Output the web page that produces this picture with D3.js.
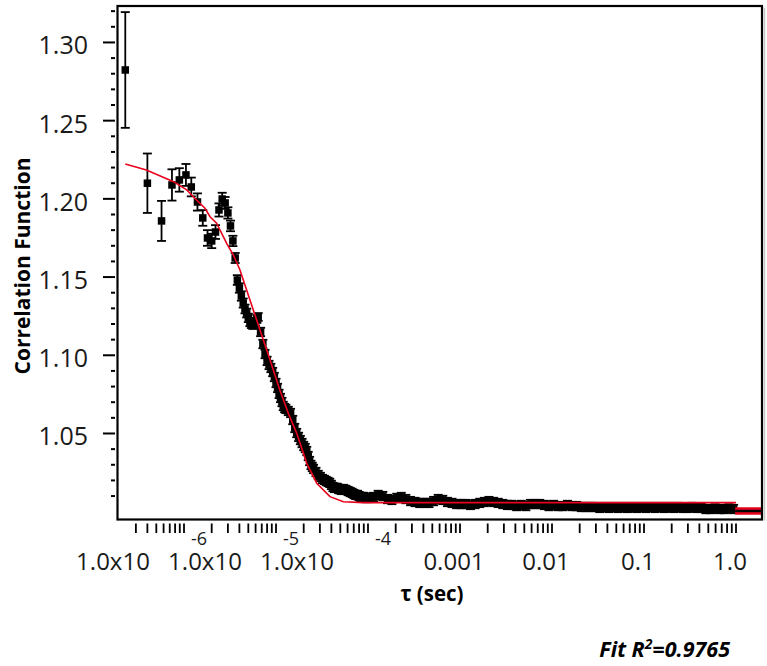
<!DOCTYPE html>
<html>
<head>
<meta charset="utf-8">
<script src="https://cdn.jsdelivr.net/npm/d3@7"></script>
<style>
  body { margin: 0; background: #fff; }
  svg { display: block; font-family: "Open Sans", "Noto Sans", sans-serif; }
</style>
</head>
<body>
<svg id="chart" width="767" height="666"></svg>
<script>
// lag times (microseconds) and measured correlation values
var tauUs = [
  0.23,0.40,0.57,0.74,0.89,1.05,1.2,1.4,1.6,1.8,2.0,2.2,2.4,2.6,2.8,3.0,3.2,
  3.4,3.6,3.8,4.0,4.2,4.4,4.6,4.8,5.0,5.2,5.4,5.6,5.8,6.0,6.2,6.4,
  6.8,7.2,7.6,8.0,8.4,8.8,9.2,9.6,10.0,10.4,10.8,11.2,11.6,12.0,12.4,12.8,
  13.6,14.4,15.2,16.0,16.8,17.6,18.4,19.2,20.0,20.8,21.6,22.4,23.2,24.0,24.8,25.6,
  27.2,28.8,30.4,32,33.6,35.2,36.8,38.4,40,41.6,43.2,44.8,46.4,48,49.6,51.2,
  54.4,57.6,60.8,64,67.2,70.4,73.6,76.8,80,83.2,86.4,89.6,92.8,96,99.2,102.4,
  115,129,145,163,182,205, 230,258,290,325,365,410, 460,516,579,650,730,819,
  919,1032,1158,1300,1459,1638, 1839,2064,2317,2601,2920,3277, 3678,4129,4634,5202,5839,6554,
  7357,8258,9269,10404,11678,13107, 14713,16515,18537,20808,23356,26214,
  29425,33029,37074,41615,46712,52429, 58850,66058,74148,83230,93423,104858,
  117700,132116,148297,166460,186846,209715, 235400,264231,296594,332920,373692,419430,
  470800,528463,593189,665840,747383,838861,941600];

var gVal = [
  1.2824,1.2100,1.1859,1.2089,1.2121,1.2153,1.2076,1.1980,1.1878,1.1750,1.1731,1.1788,1.1929,1.1999,1.1974,1.1910,1.1827,
  1.1731,1.1622,1.1481,1.1430,1.1379,1.1334,1.1296,1.1270,1.1239,1.1213,1.1200,1.1194,1.1200,1.1213,1.1232,1.1245,
  1.1149,1.1072,1.1008,1.0964,1.0938,1.0919,1.0893,1.0861,1.0823,1.0791,1.0753,1.0727,1.0701,1.0676,1.0663,1.0657,
  1.0644,1.0631,1.0586,1.0535,1.0503,1.0478,1.0458,1.0439,1.0420,1.0407,1.0388,1.0356,1.0324,1.0299,1.0286,1.0273,
  1.0254,1.0235,1.0222,1.0209,1.0203,1.0196,1.0190,1.0184,1.0171,1.0158,1.0152,1.0152,1.0152,1.0145,1.0145,1.0139,
  1.0145,1.0139,1.0132,1.0126,1.0120,1.0113,1.0107,1.0107,1.0100,1.0094,1.0094,1.0094,1.0088,1.0088,1.0088,1.0088,
  1.0094,1.0107,1.0100,1.0081,1.0075,1.0088, 1.0094,1.0081,1.0068,1.0062,1.0056,1.0056, 1.0056,1.0068,1.0081,1.0075,1.0062,1.0056,
  1.0049,1.0049,1.0049,1.0043,1.0049,1.0056, 1.0062,1.0068,1.0062,1.0056,1.0049,1.0043, 1.0043,1.0036,1.0043,1.0036,1.0049,1.0049,
  1.0049,1.0043,1.0036,1.0043,1.0036,1.0036, 1.0043,1.0036,1.0036,1.0030,1.0030,1.0030,
  1.0030,1.0024,1.0030,1.0024,1.0030,1.0024, 1.0030,1.0024,1.0030,1.0024,1.0030,1.0024,
  1.0030,1.0024,1.0030,1.0024,1.0030,1.0024, 1.0030,1.0024,1.0024,1.0030,1.0024,1.0024,
  1.0017,1.0017,1.0021,1.0017,1.0017,1.0021,1.0017];

// error bars: larger on the early points, then a small spread on the rest
var gErr = [
  0.037,0.019,0.0128,0.010,0.0075,0.007,0.006,0.0055,0.005,0.005,0.0046,0.0044,0.0042,0.004,0.0038,0.0036,0.0034,
  0.0033,0.0032,0.0031,0.0030,0.0030,0.0029,0.0028,0.0028,0.0027,0.0027,0.0026,0.0026,0.0026,0.0025,0.0025,0.0025];
var lateErr = 0.0027;

// fitted curve
var fitTauUs = [0.23,0.39,0.77,1.07,1.37,1.69,1.92,2.26,2.91,3.44,4.06,5.21,6.70,8.61,11.0,13.6,16.8,21.6,27.7,38.6,
  54.0,89,1000,10000,100000,1000000];
var fitG = [1.2223,1.2185,1.2110,1.2057,1.1993,1.1940,1.1886,1.1844,1.1716,1.1641,1.1545,1.1354,1.1162,1.0970,1.0778,
  1.0629,1.0501,1.0309,1.0182,1.0096,1.0064,1.0058,1.0058,1.0058,1.0058,1.0058];

// last chunk past 1 s
var tailTauUs = [980000, 1920000];
var tailG = [1.00045, 1.00045];

var yMajorTicks = [1.05, 1.10, 1.15, 1.20, 1.25, 1.30];
var yMinorTicks = [1.01,1.02,1.03,1.04,1.06,1.07,1.08,1.09,1.11,1.12,1.13,1.14,1.16,1.17,1.18,1.19,
  1.21,1.22,1.23,1.24,1.26,1.27,1.28,1.29,1.31,1.32];
var xLabelTicks = [1e-6, 1e-5, 1e-4, 1e-3, 1e-2, 1e-1, 1];
var xLabelBase = ["1.0x10", "1.0x10", "1.0x10", "0.001", "0.01", "0.1", "1.0"];
var xLabelExp = ["-6", "-5", "-4", "", "", "", ""];

(function() {
  var pLeft = 117.5, pRight = 762, pTop = 6, pBottom = 519.5;

  var svg = d3.select("#chart");

  var x = d3.scaleLog()
    .domain([1.893e-7, 1.917])
    .range([pLeft, pRight]);

  var y = d3.scaleLinear()
    .domain([0.99501, 1.3233])
    .range([pBottom, pTop]);

  var data = tauUs.map(function(t, i) {
    return { tau: t * 1e-6, g: gVal[i], err: i < gErr.length ? gErr[i] : lateErr };
  });
  var fit = fitTauUs.map(function(t, i) { return { tau: t * 1e-6, g: fitG[i] }; });
  var tail = tailTauUs.map(function(t, i) { return { tau: t * 1e-6, g: tailG[i] }; });

  // faint shadow on the right of the frame
  svg.append("line")
    .attr("x1", pRight + 2.5).attr("x2", pRight + 2.5)
    .attr("y1", pTop + 2).attr("y2", pBottom + 1)
    .attr("stroke", "#c8c8c8").attr("stroke-width", 1.5);

  // y ticks
  var yAxis = svg.append("g");
  yAxis.selectAll(".ymajor")
    .data(yMajorTicks).enter()
    .append("line")
    .attr("x1", pLeft - 14.5).attr("x2", pLeft - 2.5)
    .attr("y1", function(d) { return y(d); }).attr("y2", function(d) { return y(d); })
    .attr("stroke", "#000").attr("stroke-width", 2);
  yAxis.selectAll(".yminor")
    .data(yMinorTicks).enter()
    .append("line")
    .attr("x1", pLeft - 6.5).attr("x2", pLeft - 2.5)
    .attr("y1", function(d) { return y(d); }).attr("y2", function(d) { return y(d); })
    .attr("stroke", "#000").attr("stroke-width", 2);
  yAxis.selectAll(".ylab")
    .data(yMajorTicks).enter()
    .append("text")
    .attr("x", 88)
    .attr("y", function(d) { return y(d) + 12; })
    .attr("text-anchor", "end")
    .attr("font-size", "25px")
    .attr("fill", "#1a1a1a")
    .text(function(d) { return d3.format(".2f")(d); });

  // x ticks
  var xTicks = x.ticks().filter(function(d) { return x(d) > pLeft + 6 && x(d) < pRight - 2; });
  var xAxis = svg.append("g");
  xAxis.selectAll(".xtick")
    .data(xTicks).enter()
    .append("line")
    .attr("x1", function(d) { return x(d); }).attr("x2", function(d) { return x(d); })
    .attr("y1", pBottom + 4).attr("y2", pBottom + 13.5)
    .attr("stroke", "#000").attr("stroke-width", 1.8);

  xLabelTicks.forEach(function(t, i) {
    var px = x(t);
    if (xLabelExp[i]) {
      xAxis.append("text")
        .attr("x", px - 71).attr("y", 570)
        .attr("text-anchor", "middle")
        .attr("font-size", "24px").attr("fill", "#1a1a1a")
        .text(xLabelBase[i]);
      xAxis.append("text")
        .attr("x", px + 15).attr("y", 545)
        .attr("text-anchor", "middle")
        .attr("font-size", "18px").attr("fill", "#1a1a1a")
        .text(xLabelExp[i]);
    } else {
      xAxis.append("text")
        .attr("x", px - 6).attr("y", 570)
        .attr("text-anchor", "middle")
        .attr("font-size", "24px").attr("fill", "#1a1a1a")
        .text(xLabelBase[i]);
    }
  });

  // axis titles
  svg.append("text")
    .attr("transform", "translate(30,266) rotate(-90)")
    .attr("text-anchor", "middle")
    .attr("font-size", "21px").attr("font-weight", 700)
    .text("Correlation Function");

  svg.append("text")
    .attr("x", 432).attr("y", 601)
    .attr("text-anchor", "middle")
    .attr("font-size", "20.5px").attr("font-weight", 700)
    .text("\u03c4 (sec)");

  var fitLabel = svg.append("text")
    .attr("x", 730).attr("y", 657)
    .attr("text-anchor", "end")
    .attr("font-size", "21.5px").attr("font-weight", 700).attr("font-style", "italic");
  fitLabel.append("tspan").text("Fit R");
  fitLabel.append("tspan").attr("dy", -8).attr("font-size", "14px").text("2");
  fitLabel.append("tspan").attr("dy", 8).text("=0.9765");

  // data: error bars then markers
  var plot = svg.append("g");
  var withErr = data.filter(function(d) { return d.err > 0; });
  plot.selectAll(".errbar")
    .data(withErr).enter()
    .append("line")
    .attr("x1", function(d) { return x(d.tau); }).attr("x2", function(d) { return x(d.tau); })
    .attr("y1", function(d) { return y(d.g + d.err); }).attr("y2", function(d) { return y(d.g - d.err); })
    .attr("stroke", "#000").attr("stroke-width", 1.8);
  [1, -1].forEach(function(s) {
    plot.selectAll(".cap" + (s > 0 ? "up" : "dn"))
      .data(withErr).enter()
      .append("line")
      .attr("x1", function(d) { return x(d.tau) - 4.5; }).attr("x2", function(d) { return x(d.tau) + 4.5; })
      .attr("y1", function(d) { return y(d.g + s * d.err); }).attr("y2", function(d) { return y(d.g + s * d.err); })
      .attr("stroke", "#000").attr("stroke-width", 1.8);
  });

  var ms = 7.5;
  plot.selectAll(".pt")
    .data(data).enter()
    .append("rect")
    .attr("x", function(d) { return x(d.tau) - ms / 2; })
    .attr("y", function(d) { return y(d.g) - ms / 2; })
    .attr("width", ms).attr("height", ms)
    .attr("fill", "#000");

  // fit line
  var line = d3.line()
    .x(function(d) { return x(d.tau); })
    .y(function(d) { return y(d.g); });

  plot.append("path")
    .datum(fit)
    .attr("d", line)
    .attr("fill", "none")
    .attr("stroke", "#e8001c")
    .attr("stroke-width", 1.6);

  plot.append("path")
    .datum(tail)
    .attr("d", line)
    .attr("fill", "none")
    .attr("stroke", "#e8001c")
    .attr("stroke-width", 7.5);
  plot.append("path")
    .datum(tail)
    .attr("d", line)
    .attr("fill", "none")
    .attr("stroke", "#000")
    .attr("stroke-width", 2.4);

  // frame
  svg.append("rect")
    .attr("x", pLeft).attr("y", pTop)
    .attr("width", pRight - pLeft).attr("height", pBottom - pTop)
    .attr("fill", "none")
    .attr("stroke", "#000").attr("stroke-width", 2.2);
})();
</script>
</body>
</html>
